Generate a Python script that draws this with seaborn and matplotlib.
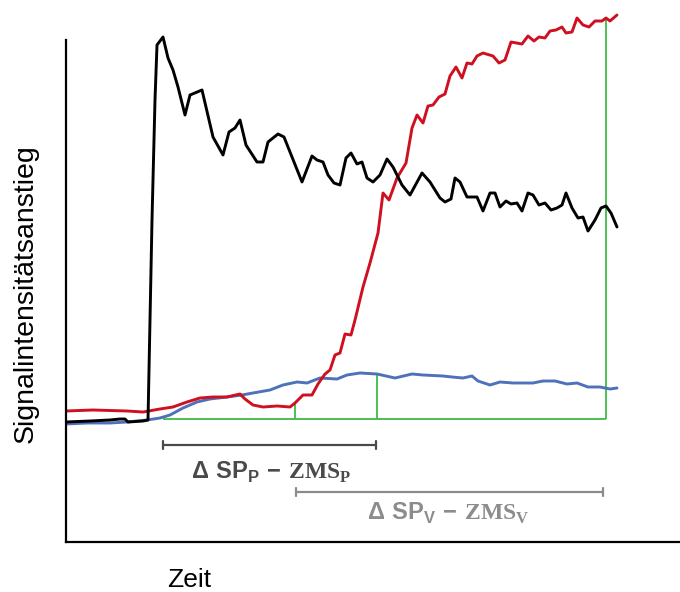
import numpy as np
import pandas as pd
import seaborn as sns
import matplotlib.pyplot as plt

sns.set_theme(style='white')
plt.rcParams['font.family'] = ['Liberation Sans', 'DejaVu Sans']
plt.rcParams['mathtext.fontset'] = 'custom'
plt.rcParams['mathtext.rm'] = 'Liberation Sans:bold'
plt.rcParams['mathtext.bf'] = 'Liberation Serif:bold'

# Black curve
t_black = [0, 24, 44, 54, 59, 62, 77, 82, 86, 89, 91, 97, 102, 107, 112, 119, 124, 136, 147, 157,
           163, 169, 174, 180, 191, 197, 202, 212, 218, 236, 246, 251, 257, 262, 268, 274, 280, 285, 291, 296,
           301, 307, 314, 321, 327, 336, 344, 356, 364, 374, 379, 385, 389, 394, 401, 411, 417, 424, 429, 434,
           440, 445, 451, 456, 462, 467, 473, 479, 485, 491, 496, 500, 506, 512, 517, 522, 529, 535, 540, 545, 551]
s_black = [120, 121, 122, 123, 123, 120, 121, 122, 322, 442, 497, 505, 484, 472, 455, 427, 447, 452, 405, 387,
           410, 414, 422, 397, 380, 380, 400, 408, 405, 360, 386, 382, 380, 367, 359, 357, 384, 389, 378, 380,
           364, 360, 367, 383, 375, 357, 347, 369, 360, 344, 340, 343, 364, 360, 345, 345, 331, 349, 349, 335,
           341, 338, 339, 331, 349, 347, 337, 339, 332, 334, 337, 349, 334, 324, 325, 311, 322, 334, 336, 329, 315]

# Red curve
t_red = [0, 27, 61, 77, 94, 107, 121, 134, 147, 161, 174, 179, 187, 197, 211, 224, 229, 237, 246, 252,
         259, 264, 269, 274, 279, 285, 289, 297, 304, 312, 317, 323, 331, 340, 346, 351, 357, 362, 367, 373,
         379, 384, 390, 396, 401, 406, 411, 417, 427, 433, 439, 445, 456, 462, 468, 473, 479, 484, 490, 496,
         500, 506, 511, 517, 523, 529, 536, 540, 544, 551]
s_red = [131, 132, 131, 130, 133, 135, 140, 144, 145, 145, 148, 143, 137, 135, 136, 135, 139, 147, 147, 158,
         168, 172, 187, 189, 208, 207, 222, 255, 279, 309, 349, 342, 364, 379, 414, 427, 419, 436, 437, 445,
         448, 466, 475, 464, 479, 478, 486, 489, 486, 479, 482, 500, 498, 506, 501, 505, 504, 511, 512, 515,
         509, 510, 524, 517, 515, 521, 521, 524, 521, 527]

# Blue curve
t_blue = [0, 21, 44, 61, 81, 94, 104, 117, 131, 144, 161, 176, 187, 204, 217, 231, 241, 254, 271, 281,
          294, 311, 329, 346, 357, 377, 386, 397, 406, 412, 424, 434, 447, 467, 477, 489, 501, 511, 522, 534,
          544, 551]
s_blue = [118, 119, 119, 120, 122, 124, 127, 134, 140, 143, 145, 147, 149, 152, 157, 160, 159, 164, 163, 167,
          169, 168, 164, 168, 167, 166, 165, 164, 166, 161, 157, 160, 159, 159, 161, 161, 158, 159, 155, 155,
          153, 154]

# Green reference lines
baseline = 123
baseline_start, baseline_end = 97, 540
marker_t = [229, 311, 540]
marker_top = [139, 168, 524]

# Interval bars
bar_p = (97, 310, 97)   # start, end, level
bar_v = (230, 537, 50)
label_p = r'$\mathrm{\Delta\ SP}_{\mathrm{P}}\ \mathrm{-}\ \mathbf{ZMS}_{\mathbf{P}}$'
label_v = r'$\mathrm{\Delta\ SP}_{\mathrm{V}}\ \mathrm{-}\ \mathbf{ZMS}_{\mathbf{V}}$'

df = pd.concat([
    pd.DataFrame({'Zeit': t_black, 'Signal': s_black, 'Kurve': 'schwarz'}),
    pd.DataFrame({'Zeit': t_red, 'Signal': s_red, 'Kurve': 'rot'}),
    pd.DataFrame({'Zeit': t_blue, 'Signal': s_blue, 'Kurve': 'blau'}),
])

fig = plt.figure(figsize=(6.8, 5.92), dpi=100)
ax = fig.add_axes([66 / 680, 50 / 592, 614 / 680, 542 / 592])

green = '#3dbb45'
ax.hlines(baseline, baseline_start, baseline_end, color=green, lw=1.3, zorder=1)
ax.vlines(marker_t, baseline, marker_top, color=green, lw=1.3, zorder=1)

sns.lineplot(data=df, x='Zeit', y='Signal', hue='Kurve', sort=False, estimator=None,
             palette={'schwarz': '#000000', 'rot': '#cf1020', 'blau': '#4d72b9'},
             hue_order=['blau', 'rot', 'schwarz'], lw=2.1, legend=False, ax=ax)

for (a, b, lvl), col in [(bar_p, '#4a4a4a'), (bar_v, '#8c8c8c')]:
    ax.annotate('', xy=(a, lvl), xytext=(b, lvl),
                arrowprops=dict(arrowstyle='|-|, widthA=0.25, widthB=0.25', color=col, lw=1.6,
                                shrinkA=0, shrinkB=0))

ax.text(205, 70, label_p, ha='center', va='center', fontsize=17, color='#4a4a4a')
ax.text(382, 29, label_v, ha='center', va='center', fontsize=17, color='#8c8c8c')

ax.set_xlim(0, 614)
ax.set_ylim(0, 542)
ax.set_xticks([])
ax.set_yticks([])
sns.despine(ax=ax)
ax.spines['left'].set_bounds(0, 502)
for side in ['left', 'bottom']:
    ax.spines[side].set_color('black')
    ax.spines[side].set_linewidth(1.6)

ax.set_ylabel('Signalintensitätsanstieg', fontsize=20.5, va='center', color='black')
ax.yaxis.set_label_coords(-0.066, 0.459)
ax.set_xlabel('Zeit', fontsize=19, va='center', color='black')
ax.xaxis.set_label_coords(0.2, -0.07)

fig.savefig('out.png', dpi=100)
